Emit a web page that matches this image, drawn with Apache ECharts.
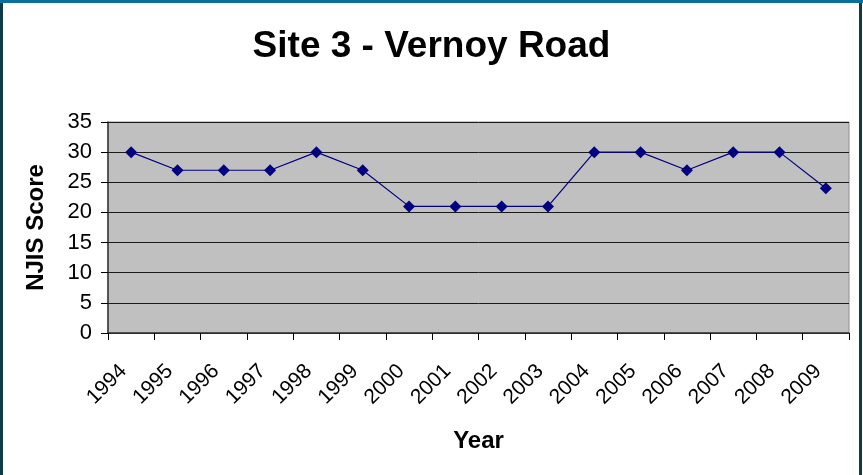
<!DOCTYPE html>
<html>
<head>
<meta charset="utf-8">
<script src="https://cdn.jsdelivr.net/npm/echarts@6/dist/echarts.min.js"></script>
<style>
html,body{margin:0;padding:0;background:#fff;}
#c{width:863px;height:475px;}
</style>
</head>
<body>
<div id="c"></div>
<script>
var years = ['1994','1995','1996','1997','1998','1999','2000','2001','2002','2003','2004','2005','2006','2007','2008','2009'];
var njisScore = [30,27,27,27,30,27,21,21,21,21,30,30,27,30,30,24];
var yTicks = {min:0, max:35, interval:5};

var FONT = 'Liberation Sans, Arial, sans-serif';
var chart = echarts.init(document.getElementById('c'), null, {renderer:'canvas'});
chart.setOption({
  backgroundColor:'#ffffff',
  animation:false,
  title:{
    text:'Site 3 - Vernoy Road',
    left:'center', top:23,
    textStyle:{fontFamily:FONT, fontSize:37, fontWeight:'bold', color:'#000'}
  },
  graphic:[
    {type:'rect', shape:{x:1.5,y:1.5,width:859,height:480}, style:{fill:null, stroke:'#0f3a48', lineWidth:3}, silent:true, z:100},
    {type:'line', shape:{x1:0,y1:1.5,x2:863,y2:1.5}, style:{stroke:'#0a6f9c', lineWidth:3}, silent:true, z:101}
  ],
  grid:{left:108, right:14, top:122, bottom:142, show:true, backgroundColor:'#c0c0c0', borderColor:'#8c8c8c', borderWidth:1},
  xAxis:{
    type:'category', data:years, boundaryGap:true,
    name:'Year', nameLocation:'middle', nameGap:96,
    nameTextStyle:{fontFamily:FONT, fontSize:24, fontWeight:'bold', color:'#000'},
    axisLine:{lineStyle:{color:'#333', width:1.5}},
    axisTick:{show:true, alignWithLabel:false, length:7, lineStyle:{color:'#000'}},
    axisLabel:{rotate:45, margin:27, padding:[0,11,0,0], fontFamily:FONT, fontSize:21, color:'#000', interval:0}
  },
  yAxis:{
    type:'value', min:yTicks.min, max:yTicks.max, interval:yTicks.interval,
    name:'NJIS Score', nameLocation:'middle', nameGap:60,
    nameTextStyle:{fontFamily:FONT, fontSize:24, fontWeight:'bold', color:'#000'},
    axisLine:{show:true, lineStyle:{color:'#333', width:1.5}},
    axisTick:{show:true, length:7, lineStyle:{color:'#000'}},
    axisLabel:{margin:16, fontFamily:FONT, fontSize:22, color:'#000'},
    splitLine:{show:true, lineStyle:{color:'#1a1a1a', width:1}}
  },
  series:[{
    type:'line', data:njisScore,
    symbol:'diamond', symbolSize:12,
    lineStyle:{color:'#000080', width:1.2},
    itemStyle:{color:'#000080'}
  }]
});
</script>
</body>
</html>
